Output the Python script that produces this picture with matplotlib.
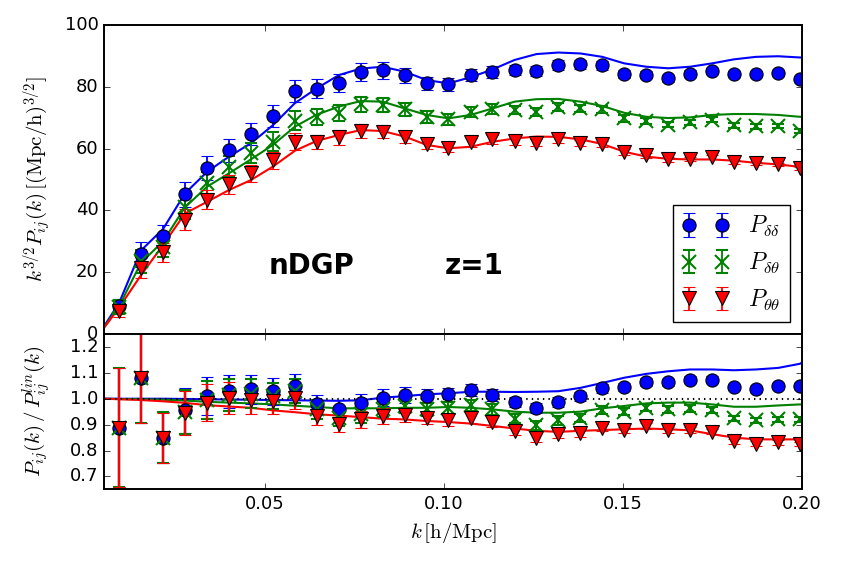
import numpy as np
import matplotlib
matplotlib.use('Agg')
import matplotlib.pyplot as plt

plt.style.use('classic')

# k bins of the simulation [h/Mpc]
k = [0.0092, 0.0153, 0.0215, 0.0276, 0.0338, 0.0399, 0.0460, 0.0522,
     0.0583, 0.0644, 0.0706, 0.0767, 0.0828, 0.0890, 0.0951, 0.1012,
     0.1074, 0.1135, 0.1197, 0.1258, 0.1319, 0.1381, 0.1442, 0.1503,
     0.1565, 0.1626, 0.1687, 0.1749, 0.1810, 0.1871, 0.1933, 0.1994]

# k^{3/2} P(k), simulation points
p_dd = [9.1, 25.8, 31.7, 45.2, 53.8, 59.5, 64.7, 70.6, 78.7, 79.4, 81.3, 84.9,
        85.3, 83.7, 81.1, 80.8, 83.9, 84.8, 85.5, 85.0, 87.0, 87.3, 87.0, 84.2,
        83.9, 82.7, 84.2, 85.2, 84.1, 84.0, 84.5, 82.6]
p_dt = [8.8, 23.5, 28.3, 41.0, 48.8, 54.2, 58.5, 62.2, 69.0, 70.3, 71.4, 74.3,
        74.1, 72.7, 70.3, 69.5, 71.8, 72.7, 72.5, 71.9, 73.6, 73.0, 72.7, 69.8,
        69.0, 67.8, 68.5, 69.3, 67.5, 67.2, 67.3, 65.8]
p_tt = [7.5, 21.4, 26.4, 37.0, 43.5, 48.4, 52.0, 56.2, 62.2, 62.2, 63.6, 65.7,
        65.4, 63.6, 61.4, 60.3, 62.0, 63.0, 62.5, 61.9, 63.0, 61.9, 61.4, 58.9,
        57.9, 56.5, 56.6, 57.2, 55.8, 55.2, 54.9, 53.6]

# fractional errors of the measurements
frac_err = [0.26, 0.16, 0.115, 0.09, 0.072, 0.062, 0.055, 0.05, 0.044, 0.038,
            0.036, 0.034, 0.032, 0.029, 0.027, 0.025, 0.023, 0.022, 0.02, 0.019,
            0.018, 0.017, 0.016, 0.015, 0.014, 0.013, 0.013, 0.012, 0.012,
            0.011, 0.011, 0.010]

# ratio to linear theory, simulation points
r_dd = [0.888, 1.081, 0.850, 0.955, 1.010, 1.029, 1.036, 1.029, 1.049, 0.978,
        0.959, 0.985, 1.004, 1.014, 1.010, 1.017, 1.033, 1.014, 0.987, 0.965,
        0.987, 1.010, 1.040, 1.045, 1.064, 1.064, 1.074, 1.074, 1.046, 1.038,
        1.051, 1.051]
r_dt = [0.888, 1.081, 0.850, 0.950, 0.995, 1.015, 1.020, 1.010, 1.030, 0.960,
        0.927, 0.940, 0.959, 0.972, 0.959, 0.963, 0.974, 0.959, 0.923, 0.898,
        0.916, 0.927, 0.955, 0.950, 0.965, 0.959, 0.963, 0.956, 0.924, 0.916,
        0.920, 0.920]
r_tt = [0.888, 1.081, 0.848, 0.945, 0.985, 1.004, 0.997, 0.990, 1.004, 0.933,
        0.904, 0.920, 0.933, 0.936, 0.927, 0.916, 0.927, 0.912, 0.876, 0.850,
        0.863, 0.867, 0.888, 0.879, 0.895, 0.879, 0.878, 0.873, 0.835, 0.827,
        0.831, 0.825]

# theory curves
k_th = [0.005] + k + [0.2]
th_dd = [2.5, 10.0, 27.0, 34.0, 45.5, 52.5, 57.4, 61.7, 67.6, 74.7, 79.5, 83.8,
         85.9, 86.5, 84.9, 82.2, 81.1, 83.1, 85.6, 88.7, 90.6, 91.1, 90.8, 89.7,
         87.6, 86.5, 86.0, 86.5, 87.6, 88.9, 89.7, 89.9, 89.5, 89.5]
th_dt = [2.2, 9.0, 23.0, 30.0, 41.0, 47.7, 52.0, 56.5, 61.2, 67.1, 71.0, 73.6,
         75.4, 75.2, 73.0, 70.9, 69.8, 70.9, 73.0, 75.2, 76.0, 76.1, 75.2, 73.8,
         71.6, 70.3, 69.9, 70.1, 70.9, 71.2, 71.2, 70.9, 70.3, 70.3]
th_tt = [2.0, 8.5, 19.0, 28.8, 39.0, 42.8, 46.6, 49.8, 54.2, 59.3, 62.5, 64.4,
         66.0, 65.7, 63.9, 61.2, 60.1, 60.6, 62.2, 63.3, 63.9, 63.8, 63.0, 61.5,
         59.0, 57.4, 56.7, 56.5, 56.5, 56.1, 55.4, 54.9, 54.1, 54.0]

rth_dd = [1.0, 1.0, 1.0, 1.0, 0.999, 0.998, 0.997, 0.996, 0.995, 0.994, 0.993,
          0.992, 0.994, 1.004, 1.010, 1.017, 1.021, 1.027, 1.027, 1.026, 1.027,
          1.029, 1.042, 1.061, 1.081, 1.096, 1.106, 1.113, 1.113, 1.110, 1.113,
          1.119, 1.135, 1.140]
rth_dt = [1.0, 0.999, 0.998, 0.996, 0.993, 0.988, 0.985, 0.982, 0.978, 0.973,
          0.968, 0.963, 0.963, 0.963, 0.965, 0.965, 0.968, 0.965, 0.959, 0.950,
          0.946, 0.946, 0.950, 0.963, 0.972, 0.982, 0.985, 0.985, 0.978, 0.969,
          0.969, 0.974, 0.978, 0.978]
rth_tt = [1.0, 0.998, 0.995, 0.990, 0.984, 0.975, 0.970, 0.965, 0.955, 0.948,
          0.940, 0.935, 0.929, 0.923, 0.920, 0.914, 0.910, 0.904, 0.895, 0.885,
          0.876, 0.872, 0.876, 0.879, 0.882, 0.885, 0.882, 0.878, 0.863, 0.850,
          0.843, 0.843, 0.843, 0.843]

labels = [r'$P_{\delta\delta}$', r'$P_{\delta\theta}$', r'$P_{\theta\theta}$']
colors = ['b', 'g', 'r']
markers = ['o', 'x', 'v']

k = np.array(k)
frac_err = np.array(frac_err)
pts = [np.array(p_dd), np.array(p_dt), np.array(p_tt)]
rats = [np.array(r_dd), np.array(r_dt), np.array(r_tt)]
ths = [th_dd, th_dt, th_tt]
rths = [rth_dd, rth_dt, rth_tt]

plt.rcParams['mathtext.fontset'] = 'cm'
plt.rcParams['axes.linewidth'] = 1.4

fig = plt.figure(figsize=(8.41, 5.69), dpi=100, facecolor='w')
ax1 = fig.add_axes([0.1237, 0.413, 0.83, 0.543])
ax2 = fig.add_axes([0.1237, 0.140, 0.83, 0.273], sharex=ax1)

# pannello superiore
handles = []
for i in range(3):
    ax1.plot(k_th, ths[i], '-', color=colors[i], lw=1.5)
for i in range(3):
    mew = 1.5 if markers[i] == 'x' else 0.8
    mec = colors[i] if markers[i] == 'x' else 'k'
    h = ax1.errorbar(k, pts[i], yerr=pts[i] * frac_err, fmt=markers[i],
                     color=colors[i], ecolor=colors[i], mec=mec, mew=mew,
                     ms=9.5, capsize=4.5, elinewidth=1.3, capthick=1.2,
                     label=labels[i])
    handles.append(h)

ax1.set_ylim(0, 100)
ax1.set_xlim(0.005, 0.2)
ax1.set_ylabel(r'$k^{3/2}P_{ij}(k)\,[(\mathrm{Mpc/h})^{3/2}]$', fontsize=15)
ax1.yaxis.set_label_coords(-0.073, 0.5)
ax1.tick_params(labelbottom=False, labelsize=13)
ax1.text(0.063, 22, 'nDGP', fontsize=20, fontweight='bold', ha='center', va='center')
ax1.text(0.1085, 22, 'z=1', fontsize=20, fontweight='bold', ha='center', va='center')
ax1.legend(handles=handles, loc='lower right', numpoints=2, fontsize=17,
           frameon=True, fancybox=False, borderaxespad=0.5)

# pannello inferiore
for i in range(3):
    ax2.plot(k_th, rths[i], '-', color=colors[i], lw=1.5)
ax2.axhline(1.0, color='k', ls=':', lw=1.5)
for i in range(3):
    mew = 1.5 if markers[i] == 'x' else 0.8
    mec = colors[i] if markers[i] == 'x' else 'k'
    ax2.errorbar(k, rats[i], yerr=rats[i] * frac_err, fmt=markers[i],
                 color=colors[i], ecolor=colors[i], mec=mec, mew=mew,
                 ms=9.5, capsize=4.5, elinewidth=1.6, capthick=1.2)

ax2.set_ylim(0.65, 1.25)
ax2.set_yticks([0.7, 0.8, 0.9, 1.0, 1.1, 1.2])
ax2.set_xticks([0.05, 0.10, 0.15, 0.20])
ax2.set_xticklabels(['0.05', '0.10', '0.15', '0.20'])
ax2.set_xlim(0.005, 0.2)
ax2.tick_params(labelsize=13)
ax2.set_ylabel(r'$P_{ij}(k)\,/\,P_{ij}^{lin}(k)$', fontsize=15)
ax2.yaxis.set_label_coords(-0.073, 0.5)
ax2.set_xlabel(r'$k\,[\mathrm{h/Mpc}]$', fontsize=15)

fig.savefig('out.png', dpi=100, facecolor='w')
